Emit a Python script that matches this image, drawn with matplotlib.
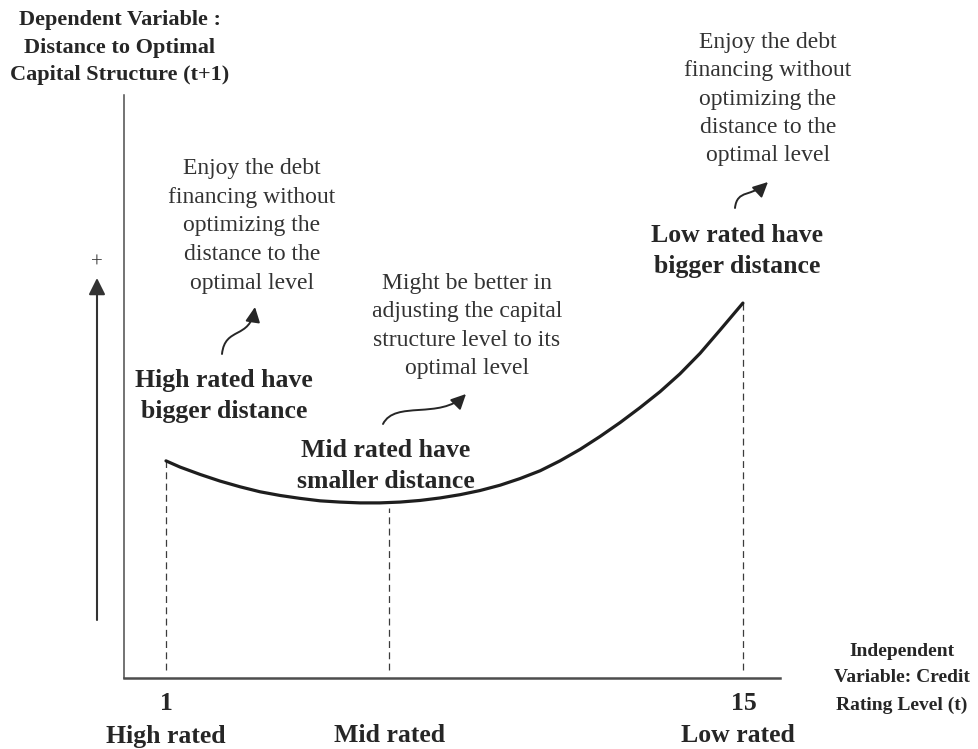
import matplotlib
matplotlib.use('Agg')
import numpy as np
import matplotlib.pyplot as plt
from matplotlib.path import Path
from matplotlib.patches import FancyArrowPatch

# ---------------- data ----------------
curve_x = [1.0, 1.34, 1.83, 2.31, 2.80, 3.28, 3.77, 4.25, 4.74, 5.22, 5.71,
           6.19, 6.68, 7.17, 7.65, 8.14, 8.62, 9.11, 9.59, 10.08, 10.56,
           11.05, 11.53, 12.02, 12.50, 12.99, 13.47, 13.96, 14.45, 15.0]
curve_y = [5.27, 5.12, 4.94, 4.78, 4.64, 4.52, 4.43, 4.36, 4.30, 4.27, 4.25,
           4.25, 4.27, 4.31, 4.37, 4.45, 4.55, 4.68, 4.84, 5.03, 5.27,
           5.55, 5.86, 6.20, 6.56, 6.95, 7.38, 7.88, 8.45, 9.10]
rating_marks = [1.0, 6.4, 15.0]           # High / Mid / Low rated guide lines
tick_labels = ["1", "15"]
category_labels = ["High rated", "Mid rated", "Low rated"]

y_title = "Dependent Variable :\nDistance to Optimal\nCapital Structure (t+1)"
x_title = "Independent\nVariable: Credit\nRating Level (t)"
note_high = "Enjoy the debt\nfinancing without\noptimizing the\ndistance to the\noptimal level"
note_mid = "Might be better in\nadjusting the capital\nstructure level to its\noptimal level"
note_low = "Enjoy the debt\nfinancing without\noptimizing the\ndistance to the\noptimal level"
lab_high = "High rated have\nbigger distance"
lab_mid = "Mid rated have\nsmaller distance"
lab_low = "Low rated have\nbigger distance"

# ---------------- figure ----------------
W, H = 979, 749
fig = plt.figure(figsize=(W / 100, H / 100), dpi=100)
fig.patch.set_facecolor('white')

ax = fig.add_axes([124 / W, 1 - 678 / H, (780 - 124) / W, (678 - 95) / H])
ax.set_xlim(-0.019, 15.90)
ax.set_ylim(0, 14.15)
ax.patch.set_alpha(0)
for s in ['top', 'right']:
    ax.spines[s].set_visible(False)
ax.spines['left'].set_linewidth(1.1)
ax.spines['left'].set_color('#4d4d4d')
ax.spines['bottom'].set_linewidth(1.8)
ax.spines['bottom'].set_color('#4d4d4d')
ax.set_xticks([])
ax.set_yticks([])

# curve
ax.plot(curve_x, curve_y, color='#1e1e1e', lw=2.3,
        solid_capstyle='round', solid_joinstyle='round', zorder=3)

# dashed guide lines
for xv in rating_marks:
    top = np.interp(xv, curve_x, curve_y)
    if curve_x[0] < xv < curve_x[-1]:
        top -= 0.13
    ax.plot([xv, xv], [0.19, top], color='#3c3c3c', lw=0.9,
            dashes=(5.5, 3.5), zorder=2)

FAM = ['Liberation Serif', 'DejaVu Serif']


def ftext(px, py, s, size, bold=False, color='#333333', ls=1.45):
    fig.text(px / W, 1 - py / H, s, ha='center', va='center',
             family=FAM, fontsize=size,
             fontweight='bold' if bold else 'normal',
             color=color, linespacing=ls)


def F(px, py):
    return (px / W, 1 - py / H)


# titles
ftext(120, 47.5, y_title, 16.0, bold=True, color='#262626', ls=1.48)
ftext(902, 678, x_title, 14.0, bold=True, color='#262626', ls=1.75)

# annotations
ftext(252, 226, note_high, 17.0, ls=1.47)
ftext(467, 326, note_mid, 17.0, ls=1.46)
ftext(768, 99, note_low, 17.0, ls=1.45)
ftext(224, 396, lab_high, 18.5, bold=True, color='#262626', ls=1.47)
ftext(386, 466, lab_mid, 18.5, bold=True, color='#262626', ls=1.47)
ftext(737, 251, lab_low, 18.5, bold=True, color='#262626', ls=1.47)

# ticks and categories
tick_px = [166, 744]
for lab, px in zip(tick_labels, tick_px):
    ftext(px, 704, lab, 18.5, bold=True, color='#262626')
cat_px = [166, 390, 738]
for lab, px in zip(category_labels, cat_px):
    ftext(px, 736, lab, 18.5, bold=True, color='#262626')

# plus sign and long arrow on the left
ftext(97, 263, "+", 15.0, color='#333333')
arr = FancyArrowPatch(F(97, 620), F(97, 278), transform=fig.transFigure,
                      arrowstyle='-|>,head_length=0.5,head_width=0.25',
                      mutation_scale=20, lw=1.5, color='#333333',
                      shrinkA=0, shrinkB=0)
fig.add_artist(arr)


def curvy(pts):
    verts = [F(*p) for p in pts]
    path = Path(verts, [Path.MOVETO, Path.CURVE4, Path.CURVE4, Path.CURVE4])
    a = FancyArrowPatch(path=path, transform=fig.transFigure,
                        arrowstyle='-|>,head_length=0.45,head_width=0.22',
                        mutation_scale=20, lw=1.4, color='#262626')
    fig.add_artist(a)


curvy([(222, 354), (225, 326), (250, 340), (255, 307)])
curvy([(383, 424), (395, 400), (440, 420), (466, 394)])
curvy([(735, 208), (737, 189), (752, 197), (768, 182)])

fig.savefig('out.png', dpi=100, facecolor='white')
